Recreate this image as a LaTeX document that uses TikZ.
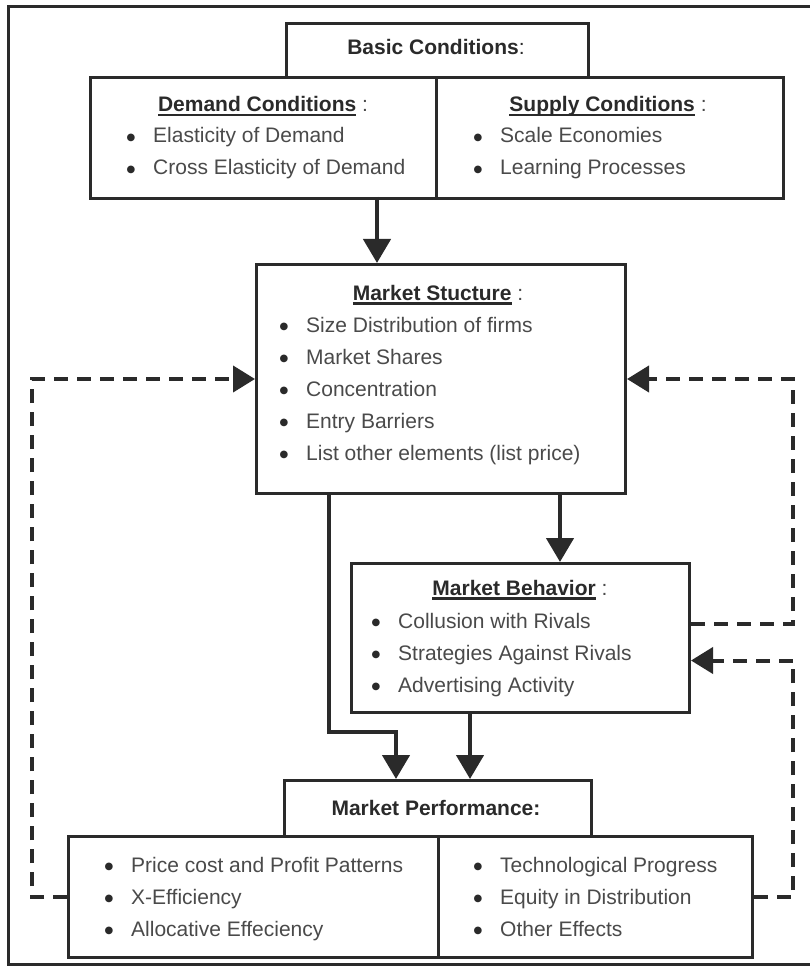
\documentclass[tikz,border=0pt]{standalone}
\usepackage{fontspec}
\setmainfont{Liberation Sans}
\newfontfamily\dejavu{DejaVu Sans}
\usetikzlibrary{arrows.meta,calc}
\definecolor{ink}{HTML}{2A2A2A}
\definecolor{txt}{HTML}{4A4A4A}
\newcommand\myul[1]{\setbox0\hbox{#1}\rlap{\rule[-4.5pt]{\wd0}{2.2pt}}\box0}
\newcommand\bul{\makebox[27pt][l]{\hspace{0.5pt}\raisebox{2.5pt}{\textcolor{ink}{\dejavu\fontsize{10}{10}\selectfont ●}}}}
\newcommand\clnx{\ \textcolor{txt}{:}}
\begin{document}
\begin{tikzpicture}[x=1pt,y=-1pt,
  box/.style={draw=ink, line width=3pt, rectangle, inner sep=0pt, anchor=north west, fill=white},
  itm/.style={anchor=base west, inner sep=0pt, text=txt, font=\fontsize{21}{25}\selectfont},
  ttl/.style={anchor=base, inner sep=0pt, text=ink, font=\fontsize{21}{25}\selectfont},
  arr/.style={draw=ink, line width=4.5pt, line join=miter, -{Triangle[length=24pt,width=27pt]}},
  dsh/.style={draw=ink, line width=4pt, dash pattern=on 14pt off 9pt, line join=miter},
  dsharr/.style={dsh, -{Triangle[length=22pt,width=26pt]}},
  frame/.style={draw=ink, line width=3pt}]
\useasboundingbox (0,0) rectangle (810,968);
\fill[white] (0,0) rectangle (810,968);
\draw[frame] (8,7) rectangle (830,964);

% boxes
\node[box, minimum width=302pt, minimum height=54pt] (basic) at (285,22) {};
\node[box, minimum width=346pt, minimum height=121pt] (demand) at (89,76) {};
\node[box, minimum width=347pt, minimum height=121pt] (supply) at (435,76) {};
\node[box, minimum width=369pt, minimum height=229pt] (struct) at (255,263) {};
\node[box, minimum width=338pt, minimum height=149pt] (behav) at (350,562) {};
\node[box, minimum width=307pt, minimum height=56pt] (perfh) at (283,779) {};
\node[box, minimum width=370pt, minimum height=121pt] (perfl) at (67,835) {};
\node[box, minimum width=314pt, minimum height=121pt] (perfr) at (437,835) {};

% texts
\node[ttl] (tbasic) at (436,55) {\textbf{Basic Conditions}:};
\node[ttl] (tdem) at (263,112) {\myul{\textbf{Demand Conditions}}\clnx};
\node[itm] (d1) at (126,143) {\bul Elasticity of Demand};
\node[itm] (d2) at (126,175) {\bul Cross Elasticity of Demand};
\node[ttl] (tsup) at (608,112) {\myul{\textbf{Supply Conditions}}\clnx};
\node[itm] (s1) at (473,143) {\bul Scale Economies};
\node[itm] (s2) at (473,175) {\bul Learning Processes};

\node[ttl] (tstr) at (438,300) {\myul{\textbf{Market Stucture}}\clnx};
\node[itm] (m1) at (279,332) {\bul Size Distribution of firms};
\node[itm] (m2) at (279,364) {\bul Market Shares};
\node[itm] (m3) at (279,396) {\bul Concentration};
\node[itm] (m4) at (279,428) {\bul Entry Barriers};
\node[itm] (m5) at (279,460) {\bul List other elements (list price)};

\node[ttl] (tbeh) at (520,595) {\myul{\textbf{Market Behavior}}\clnx};
\node[itm] (b1) at (371,628) {\bul Collusion with Rivals};
\node[itm] (b2) at (371,660) {\bul Strategies Against Rivals};
\node[itm] (b3) at (371,692) {\bul Advertising Activity};

\node[ttl] (tperf) at (436,815) {\textbf{Market Performance:}};
\node[itm] (p1) at (104,872) {\bul Price cost and Profit Patterns};
\node[itm] (p2) at (104,904) {\bul X-Efficiency};
\node[itm] (p3) at (104,936) {\bul Allocative Effeciency};
\node[itm] (q1) at (473,872) {\bul Technological Progress};
\node[itm] (q2) at (473,904) {\bul Equity in Distribution};
\node[itm] (q3) at (473,936) {\bul Other Effects};

% solid connectors
\coordinate (a1) at (377,197);
\coordinate (a2) at (560,0);
\coordinate (a3) at (329,0);
\coordinate (a4) at (396,732);
\coordinate (a5) at (470,0);
\draw[arr] (a1) -- (a1 |- struct.north);
\draw[arr] (struct.south -| a2) -- (behav.north -| a2);
\draw[arr] (struct.south -| a3) -- (a3 |- a4) -- (a4) -- (perfh.north -| a4);
\draw[arr] (behav.south -| a5) -- (perfh.north -| a5);

% dashed feedback
\coordinate (L) at (32,0);
\coordinate (R) at (793,0);
\coordinate (bout) at ($(behav.east)+(0,-14.5)$);
\coordinate (bin) at ($(behav.east)+(0,22.5)$);
\draw[dsharr] (perfl.west) -- (perfl.west -| L) -- (struct.west -| L) -- (struct.west);
\draw[dsharr] (perfr.east) -- (perfr.east -| R) -- (bin -| R) -- (bin);
\draw[dsharr] (bout) -- (bout -| R) -- (struct.east -| R) -- (struct.east);
\end{tikzpicture}
\end{document}
